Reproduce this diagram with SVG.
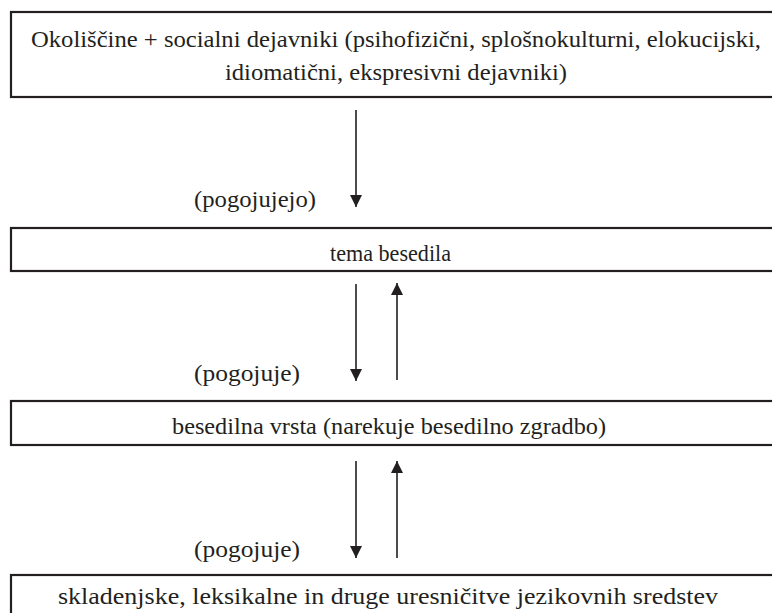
<svg xmlns="http://www.w3.org/2000/svg" width="772" height="613" viewBox="0 0 772 613">
<defs>
<style>
.box{fill:#fff;stroke:#231f20;stroke-width:2.2}
text{font-family:"Liberation Serif","Times New Roman",serif;font-size:24px;fill:#231f20}
.c{stroke:#231f20;stroke-width:1.6;fill:none}
</style>
<marker id="ah" viewBox="0 0 10 10" refX="10" refY="5" markerWidth="12" markerHeight="12" markerUnits="userSpaceOnUse" orient="auto">
<path d="M0,0 L10,5 L0,10 z" fill="#231f20"/>
</marker>
</defs>
<rect width="772" height="613" fill="#fff"/>
<g id="n1">
<rect class="box" x="11" y="12" width="780" height="85"/>
<text x="31" y="47" textLength="730" lengthAdjust="spacingAndGlyphs">Okoliščine + socialni dejavniki (psihofizični, splošnokulturni, elokucijski,</text>
<text x="225" y="80" textLength="342" lengthAdjust="spacingAndGlyphs">idiomatični, ekspresivni dejavniki)</text>
</g>
<g id="n2">
<rect class="box" x="11" y="228" width="780" height="43"/>
<text x="330" y="261" textLength="121" lengthAdjust="spacingAndGlyphs">tema besedila</text>
</g>
<g id="n3">
<rect class="box" x="11" y="401" width="780" height="44"/>
<text x="172" y="434" textLength="434" lengthAdjust="spacingAndGlyphs">besedilna vrsta (narekuje besedilno zgradbo)</text>
</g>
<g id="n4">
<rect class="box" x="11" y="575" width="780" height="60"/>
<text x="58" y="604" textLength="660" lengthAdjust="spacingAndGlyphs">skladenjske, leksikalne in druge uresničitve jezikovnih sredstev</text>
</g>
<g id="connectors">
<line class="c" x1="356" y1="110" x2="356" y2="207" marker-end="url(#ah)"/>
<line class="c" x1="356" y1="284" x2="356" y2="381" marker-end="url(#ah)"/>
<line class="c" x1="397" y1="380" x2="397" y2="283" marker-end="url(#ah)"/>
<line class="c" x1="356" y1="461" x2="356" y2="558" marker-end="url(#ah)"/>
<line class="c" x1="397" y1="558" x2="397" y2="461" marker-end="url(#ah)"/>
<text x="194" y="207" textLength="122" lengthAdjust="spacingAndGlyphs">(pogojujejo)</text>
<text x="194" y="381" textLength="106" lengthAdjust="spacingAndGlyphs">(pogojuje)</text>
<text x="194" y="557" textLength="106" lengthAdjust="spacingAndGlyphs">(pogojuje)</text>
</g>
</svg>
